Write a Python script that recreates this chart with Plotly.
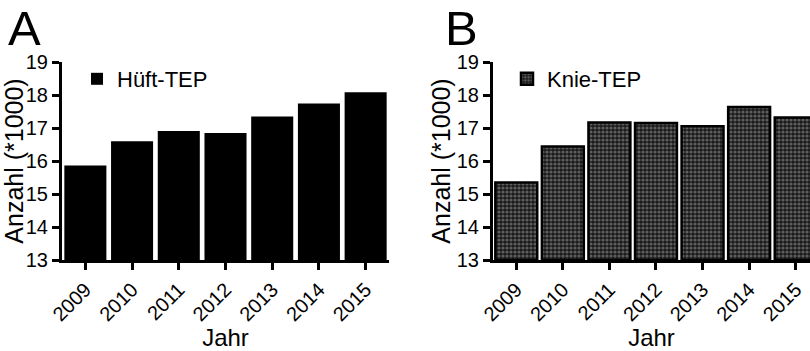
import plotly.graph_objects as go

years = ["2009", "2010", "2011", "2012", "2013", "2014", "2015"]
hueft_tep = [15.86, 16.60, 16.91, 16.85, 17.35, 17.74, 18.08]
knie_tep = [15.35, 16.44, 17.17, 17.15, 17.05, 17.64, 17.32]
y_ticks = [13, 14, 15, 16, 17, 18, 19]
BASE = 13

W, H = 810, 351
FONT = "Liberation Sans, Arial, sans-serif"

fig = go.Figure()
fig.add_trace(go.Bar(x=years, y=[v - BASE for v in hueft_tep], base=BASE, name="Hüft-TEP",
                     xaxis="x", yaxis="y", showlegend=True, legend="legend",
                     marker=dict(color="black", line=dict(color="black", width=0))))
fig.add_trace(go.Bar(x=years, y=[v - BASE for v in knie_tep], base=BASE, name="Knie-TEP",
                     xaxis="x2", yaxis="y2", showlegend=True, legend="legend2",
                     marker=dict(color="#3a3a3a", line=dict(color="black", width=2.5),
                                 pattern=dict(shape=".", bgcolor="#1a1a1a", fgcolor="#5e5e5e",
                                              size=4, solidity=0.5, fillmode="replace"))))

ybot = (H - 260) / H
ytop = (H - 62) / H
axis_common = dict(showline=True, linecolor="black", linewidth=3, ticks="outside",
                   ticklen=7, tickwidth=3, tickcolor="black", showgrid=False, zeroline=False,
                   automargin=False,
                   tickfont=dict(size=20, color="black", family=FONT))

fig.update_layout(
    width=W, height=H, margin=dict(l=0, r=0, t=0, b=0),
    plot_bgcolor="white", paper_bgcolor="white", bargap=0.1, showlegend=True,
    font=dict(family=FONT, color="black"),
    xaxis=dict(domain=[62 / W, 389 / W], range=[-0.5, 6.5], tickangle=-45, anchor="y",
               title=dict(text="Jahr", font=dict(size=24), standoff=5), **axis_common),
    yaxis=dict(domain=[ybot, ytop], range=[13, 19], tickvals=y_ticks, anchor="x",
               title=dict(text="Anzahl (*1000)", font=dict(size=25), standoff=0), **axis_common),
    xaxis2=dict(domain=[493 / W, 1], range=[-0.5, 6.5 - (819 - 810) / 46.7], tickangle=-45, anchor="y2",
                title=dict(text="Jahr", font=dict(size=24), standoff=5), **axis_common),
    yaxis2=dict(domain=[ybot, ytop], range=[13, 19], tickvals=y_ticks, anchor="x2",
                title=dict(text="Anzahl (*1000)", font=dict(size=25), standoff=0), **axis_common),
    legend=dict(x=77 / W, y=1 - 58 / H, xanchor="left", yanchor="top",
                font=dict(size=22), bgcolor="rgba(0,0,0,0)"),
    legend2=dict(x=507 / W, y=1 - 58 / H, xanchor="left", yanchor="top",
                 font=dict(size=22), bgcolor="rgba(0,0,0,0)"),
    annotations=[
        dict(text="A", x=6 / W, y=1 - 28 / H, xref="paper", yref="paper", xanchor="left",
             yanchor="middle", showarrow=False, font=dict(size=49, color="black")),
        dict(text="B", x=443 / W, y=1 - 28 / H, xref="paper", yref="paper", xanchor="left",
             yanchor="middle", showarrow=False, font=dict(size=49, color="black")),
    ],
)

fig.write_html("out.html")
